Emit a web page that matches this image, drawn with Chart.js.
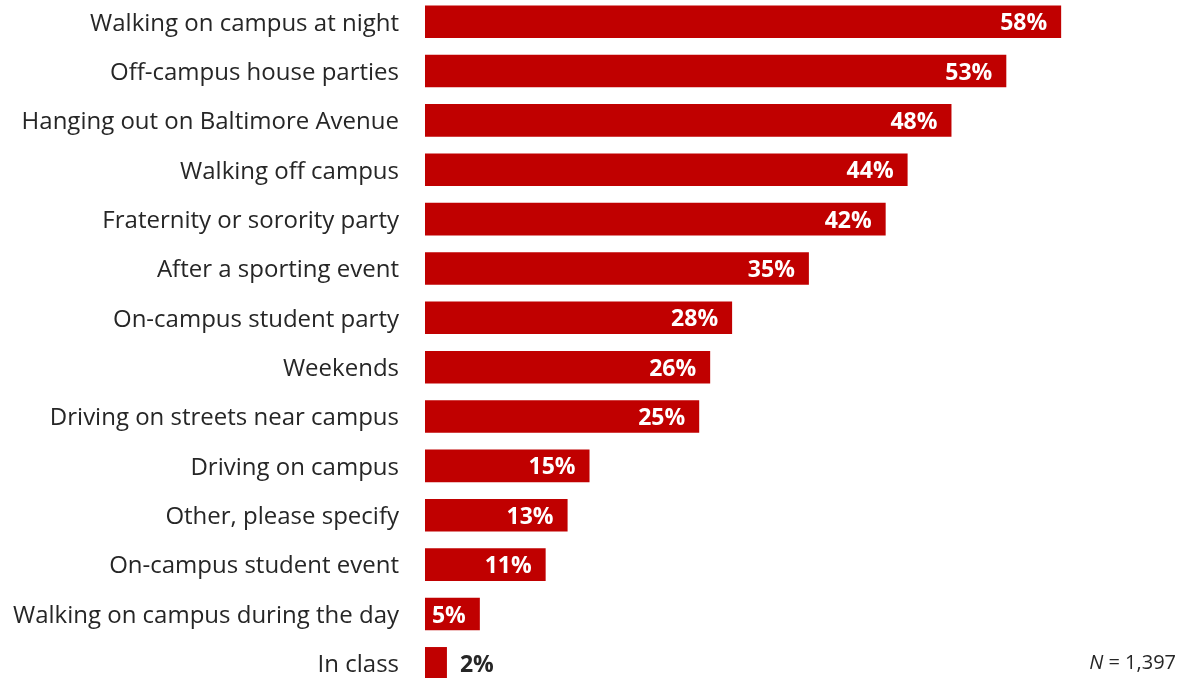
<!DOCTYPE html>
<html>
<head>
<meta charset="utf-8">
<script src="https://cdn.jsdelivr.net/npm/chart.js@4.4.1/dist/chart.umd.min.js"></script>
<style>
  html, body { margin: 0; padding: 0; background: #ffffff; overflow: hidden; }
  #wrap { position: absolute; left: 0; top: -3px; width: 1184px; height: 691px; }
</style>
</head>
<body>
<div id="wrap"><canvas id="c"></canvas></div>
<script>
// Locations where students reported feeling unsafe (share of respondents, %)
const categories = [
  "Walking on campus at night",
  "Off-campus house parties",
  "Hanging out on Baltimore Avenue",
  "Walking off campus",
  "Fraternity or sorority party",
  "After a sporting event",
  "On-campus student party",
  "Weekends",
  "Driving on streets near campus",
  "Driving on campus",
  "Other, please specify",
  "On-campus student event",
  "Walking on campus during the day",
  "In class"
];
const percentValues = [58, 53, 48, 44, 42, 35, 28, 26, 25, 15, 13, 11, 5, 2];
const sampleNote = "= 1,397";

const BAR_RED = "#c00000";
const TEXT_DARK = "#262626";
const LABEL_FONT = "'Open Sans', sans-serif";

// Draws the percentage at the end of each bar (inside when it fits, outside otherwise)
const valueLabels = {
  id: "valueLabels",
  afterDatasetsDraw(chart) {
    const ctx = chart.ctx;
    const meta = chart.getDatasetMeta(0);
    ctx.save();
    ctx.font = "bold 23px " + LABEL_FONT;
    ctx.textBaseline = "middle";
    meta.data.forEach((bar, i) => {
      const txt = percentValues[i] + "%";
      const w = ctx.measureText(txt).width;
      const barLen = bar.x - bar.base;
      if (barLen > w + 14) {
        ctx.fillStyle = "#ffffff";
        ctx.textAlign = "right";
        ctx.fillText(txt, bar.x - 14, bar.y + 2);
      } else {
        ctx.fillStyle = TEXT_DARK;
        ctx.textAlign = "left";
        ctx.fillText(txt, bar.x + 13, bar.y + 2);
      }
    });
    ctx.restore();
  }
};

// Sample size note in the lower right corner
const sampleSize = {
  id: "sampleSize",
  afterDraw(chart) {
    const ctx = chart.ctx;
    ctx.save();
    ctx.fillStyle = TEXT_DARK;
    ctx.textBaseline = "middle";
    ctx.textAlign = "right";
    ctx.font = "20px " + LABEL_FONT;
    const right = 1176;
    const y = 666;
    const restW = ctx.measureText(" " + sampleNote).width;
    ctx.fillText(" " + sampleNote, right, y);
    ctx.font = "italic 20px " + LABEL_FONT;
    ctx.fillText("N", right - restW, y);
    ctx.restore();
  }
};

new Chart(document.getElementById("c"), {
  type: "bar",
  data: {
    labels: categories,
    datasets: [{
      data: percentValues,
      backgroundColor: BAR_RED,
      borderWidth: 0,
      barPercentage: 0.66,
      categoryPercentage: 1.0
    }]
  },
  options: {
    indexAxis: "y",
    responsive: true,
    maintainAspectRatio: false,
    animation: false,
    layout: { padding: 0 },
    plugins: {
      legend: { display: false },
      tooltip: { enabled: false }
    },
    scales: {
      x: {
        display: false,
        min: 0,
        max: 69.2
      },
      y: {
        grid: { display: false, drawTicks: false },
        border: { display: false },
        ticks: {
          color: TEXT_DARK,
          padding: 26,
          labelOffset: 2,
          font: { family: LABEL_FONT, size: 24 }
        },
        afterFit(scale) {
          scale.width = 425;
          scale.paddingTop = 0;
          scale.paddingBottom = 0;
        }
      }
    }
  },
  plugins: [valueLabels, sampleSize]
});
</script>
</body>
</html>
